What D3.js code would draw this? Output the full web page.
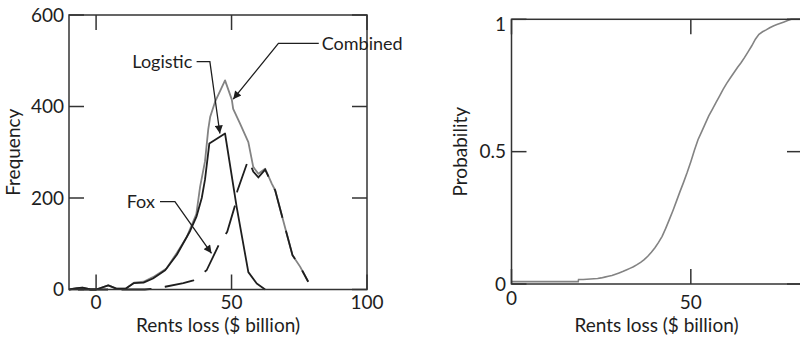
<!DOCTYPE html>
<html><head><meta charset="utf-8">
<script src="https://cdn.jsdelivr.net/npm/d3@7"></script>
<style>
body{margin:0;background:#fff}
svg{display:block}
text{font-family:Lato,"Open Sans",sans-serif;fill:#1e1e1e}
</style>
</head><body>
<svg id="chart" width="800" height="340"></svg>
<script>
// ---------- data: left panel (histogram of rents loss) ----------
const combinedX = [-10,-7,-5,-2,0,4.5,7.5,11,14,17.5,21,26,29.8,33.5,37,38.4,40.2,41.4,42.1,43.9,47.6,50.1,50.6,53.1,56.2,58,59.9,62.4,64.8,66.1,70,72.5,75.3,78.3];
const combinedY = [0,3,4,0,0,9,2,2,15,17,27,46,80,115,165,225,280,350,377,410,457,415,395,363,322,268,253,264,232,217,130,75,50,17];

const logisticX = [-10,-7,-5,-2,0,4.5,7.5,11,14,17.5,21,25.5,29.8,34.7,37.1,39,40.2,41.8,47.6,51.9,56.2,59.3,62.4];
const logisticY = [0,3,4,0,0,9,2,2,14,15,24,42,76,128,160,200,240,319,341,180,38,13,0];

const foxX = [-10,12.5,18,22,25.5,32.2,35.9,40.8,45.5,48.4,51.6,52.1,56.2,58,59.9,62.4,64.8,66.1,70,72.5,75.3,78.3];
const foxY = [0,0,0,2,6,14,20,42,100,126,190,215,284,258,245,262,232,217,130,75,50,17];

const leftXTicks = [0,50,100];
const leftYTicks = [0,200,400,600];

// ---------- data: right panel (cumulative probability) ----------
const cdfX = [0,18.6,18.7,20,21,22,23,24,25,26,27,28,29,30,31,32,33,34,35,36,37,38,39,40,41,42,43,44,45,46,47,48,49,50,51,52,53,54,55,56,57,58,59,60,61,62,63,64,65,66,67,68,69,70,71,72,73,74,75,76,77,78,81];
const cdfP = [0.009,0.009,0.017,0.017,0.018,0.019,0.02,0.021,0.023,0.026,0.029,0.032,0.037,0.042,0.047,0.053,0.059,0.065,0.073,0.082,0.092,0.105,0.12,0.137,0.157,0.18,0.21,0.243,0.277,0.313,0.35,0.385,0.422,0.462,0.505,0.545,0.575,0.605,0.635,0.66,0.685,0.71,0.735,0.758,0.778,0.798,0.818,0.836,0.856,0.878,0.9,0.925,0.943,0.953,0.96,0.968,0.975,0.98,0.985,0.99,0.995,1.0,1.0];

const rightXTicks = [0,50];
const rightYTicks = [0,0.5,1];

// annotation anchors in data units
const annotations = [
  {label:"Combined", text:[83.3,538], corner:[67.3,538], tip:[50.6,416], start:[82.2,538]},
  {label:"Logistic", text:[35.5,498], corner:[42,498], tip:[45.7,341], start:[37.1,498]},
  {label:"Fox", text:[21.7,192], corner:[29.1,192], tip:[42.6,79], start:[23.6,192]}
];

// ---------- drawing ----------
const svg = d3.select("#chart");
const AX = "#333";
const TICK = 15;
const TICKFONT = 19, TITLEFONT = 19, NOTEFONT = 18;

svg.append("defs").append("marker")
  .attr("id","arrow").attr("viewBox","0 0 10 10").attr("refX",10).attr("refY",5)
  .attr("markerWidth",10).attr("markerHeight",8).attr("markerUnits","userSpaceOnUse")
  .attr("orient","auto")
  .append("path").attr("d","M0,0 L10,5 L0,10 Z").attr("fill","#1e1e1e");

function frame(g, x, y, xt, yt) {
  const [x0,x1] = x.range(), [y0,y1] = y.range();
  g.append("rect").attr("x",x0).attr("y",y1).attr("width",x1-x0).attr("height",y0-y1)
    .attr("fill","none").attr("stroke",AX).attr("stroke-width",1.5);
  const t = g.append("g").attr("stroke",AX).attr("stroke-width",1.5);
  xt.forEach(v => {
    t.append("line").attr("x1",x(v)).attr("x2",x(v)).attr("y1",y0).attr("y2",y0-TICK);
    t.append("line").attr("x1",x(v)).attr("x2",x(v)).attr("y1",y1).attr("y2",y1+TICK);
  });
  yt.forEach(v => {
    t.append("line").attr("y1",y(v)).attr("y2",y(v)).attr("x1",x0).attr("x2",x0+TICK);
    t.append("line").attr("y1",y(v)).attr("y2",y(v)).attr("x1",x1).attr("x2",x1-TICK);
  });
}

// ----- left panel -----
const xL = d3.scaleLinear().domain([-10,100]).range([69,367]);
const yL = d3.scaleLinear().domain([0,600]).range([289.5,15]);
const gL = svg.append("g");

const lineL = d3.line().x(d=>xL(d[0])).y(d=>yL(d[1]));
gL.append("path").datum(d3.zip(combinedX,combinedY)).attr("d",lineL)
  .attr("fill","none").attr("stroke","#838383").attr("stroke-width",1.8).attr("stroke-linejoin","round");
gL.append("path").datum(d3.zip(logisticX,logisticY)).attr("d",lineL)
  .attr("fill","none").attr("stroke","#1e1e1e").attr("stroke-width",1.8).attr("stroke-linejoin","round");
gL.append("path").datum(d3.zip(foxX,foxY)).attr("d",lineL)
  .attr("fill","none").attr("stroke","#1e1e1e").attr("stroke-width",1.8)
  .attr("stroke-dasharray","30,13.5").attr("stroke-dashoffset",34.5);

frame(gL, xL, yL, leftXTicks, leftYTicks);

gL.selectAll(".xl").data(leftXTicks).join("text")
  .attr("x",d=>xL(d)).attr("y",308.5).attr("text-anchor","middle")
  .attr("font-size",TICKFONT).text(d=>d);
gL.selectAll(".yl").data(leftYTicks).join("text")
  .attr("x",64).attr("y",d=>yL(d)).attr("dy","0.35em").attr("text-anchor","end")
  .attr("font-size",TICKFONT).text(d=>d);
gL.append("text").attr("x",(xL(-10)+xL(100))/2).attr("y",331.5).attr("text-anchor","middle")
  .attr("font-size",TITLEFONT).text("Rents loss ($ billion)");
gL.append("text").attr("transform",`translate(20,${(yL(0)+yL(600))/2}) rotate(-90)`)
  .attr("text-anchor","middle").attr("font-size",TITLEFONT).text("Frequency");

annotations.forEach(a => {
  const p = [a.start, a.corner, a.tip].map(d=>[xL(d[0]),yL(d[1])]);
  gL.append("path").attr("d",d3.line()(p)).attr("fill","none")
    .attr("stroke","#1e1e1e").attr("stroke-width",1.3).attr("marker-end","url(#arrow)");
  const isRight = a.label==="Combined";
  gL.append("text").attr("x",xL(a.text[0])).attr("y",yL(a.text[1])).attr("dy","0.35em")
    .attr("text-anchor", isRight ? "start" : "end").attr("font-size",NOTEFONT).text(a.label);
});

// ----- right panel -----
const xR = d3.scaleLinear().domain([0,81]).range([511.5,802]);
const yR = d3.scaleLinear().domain([0,1]).range([284,19.3]);
const gR = svg.append("g");

gR.append("path").datum(d3.zip(cdfX,cdfP))
  .attr("d",d3.line().x(d=>xR(d[0])).y(d=>yR(d[1])))
  .attr("fill","none").attr("stroke","#838383").attr("stroke-width",1.6);

frame(gR, xR, yR, rightXTicks, rightYTicks);

gR.selectAll(".xl").data(rightXTicks).join("text")
  .attr("x",d=>xR(d)).attr("y",d=> d===0 ? 305 : 308.5).attr("text-anchor","middle")
  .attr("font-size",TICKFONT).text(d=>d);
gR.selectAll(".yl").data(rightYTicks).join("text")
  .attr("x",506).attr("y",d=>yR(d) + (d===1 ? 5 : 0)).attr("dy","0.35em").attr("text-anchor","end")
  .attr("font-size",TICKFONT).text(d=>d);
gR.append("text").attr("x",656.5).attr("y",331.5).attr("text-anchor","middle")
  .attr("font-size",TITLEFONT).text("Rents loss ($ billion)");
gR.append("text").attr("transform",`translate(467,${(yR(0)+yR(1))/2}) rotate(-90)`)
  .attr("text-anchor","middle").attr("font-size",TITLEFONT).text("Probability");
</script>
</body></html>
